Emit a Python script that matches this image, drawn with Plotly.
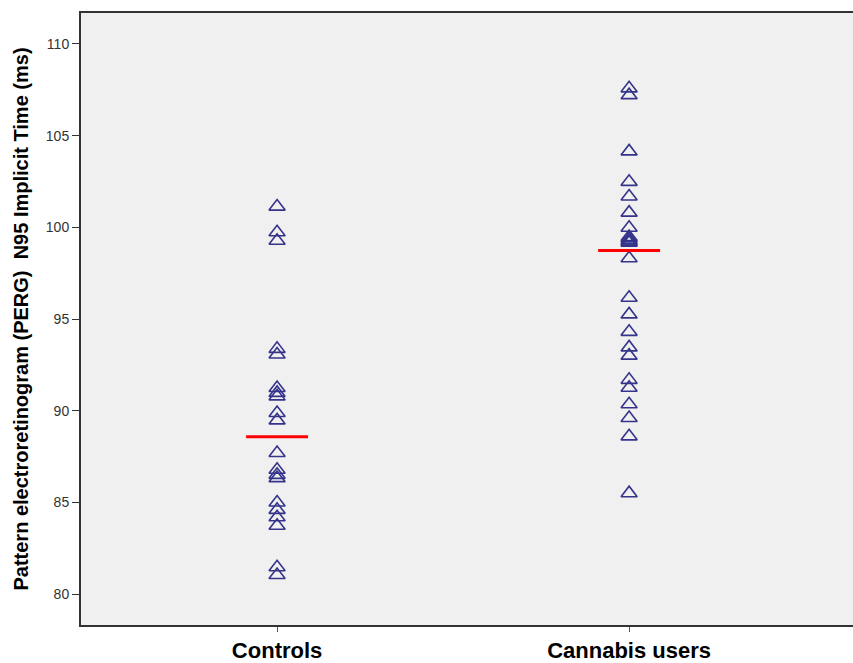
import numpy as np
import plotly.graph_objects as go

categories = ["Controls", "Cannabis users"]
controls = [101.13, 99.73, 99.27, 93.37, 93.06, 91.24, 90.97, 90.78, 89.87, 89.47,
            87.69, 86.78, 86.50, 86.32, 84.99, 84.59, 84.19, 83.72, 81.46, 81.04]
cannabis = [107.58, 107.21, 104.14, 102.48, 101.68, 100.80, 99.98, 99.47, 99.40, 99.29,
            99.22, 99.16, 98.31, 96.16, 95.25, 94.30, 93.45, 93.00, 91.68, 91.25,
            90.35, 89.60, 88.60, 85.50]
groups = [controls, cannabis]
y_ticks = [80, 85, 90, 95, 100, 105, 110]

fig = go.Figure()
for i, vals in enumerate(groups):
    fig.add_trace(go.Scatter(
        x=[i] * len(vals), y=vals, mode="markers",
        marker=dict(symbol="triangle-up-open", size=14, color="#34348a",
                    line=dict(width=1.6, color="#34348a")),
        showlegend=False, hoverinfo="y"))
for i, vals in enumerate(groups):
    med = float(np.median(vals))
    fig.add_trace(go.Scatter(
        x=[i - 0.088, i + 0.088], y=[med, med], mode="lines",
        line=dict(color="#ff0000", width=3), showlegend=False, hoverinfo="skip"))

fig.update_layout(
    width=853, height=663,
    margin=dict(l=81, r=0, t=13, b=38),
    paper_bgcolor="white", plot_bgcolor="#f0f0f0",
    font=dict(family="Arial, Liberation Sans, sans-serif", color="#000"),
    xaxis=dict(range=[-0.557, 1.636], tickvals=[0, 1],
               ticktext=["<b>" + c + "</b>" for c in categories],
               automargin=False,
               showgrid=False, zeroline=False, showline=True, linecolor="#333",
               linewidth=2, mirror=True, ticks="outside", ticklen=5, tickcolor="#555",
               tickfont=dict(size=22, color="#000"),
               tickangle=0),
    yaxis=dict(range=[78.31, 111.69], tickvals=y_ticks, automargin=False,
               showgrid=False, zeroline=False, showline=True, linecolor="#333",
               linewidth=2, ticks="outside", ticklen=7, tickcolor="#333",
               tickfont=dict(size=14, color="#333"),
               title=dict(text="<b>Pattern electroretinogram (PERG)  N95 Implicit Time (ms)</b>",
                          font=dict(size=20, color="#000"), standoff=12)),
)
fig.write_html("out.html", config={"displayModeBar": False},
               post_script="document.body.style.margin='0';document.body.style.overflow='hidden';")
